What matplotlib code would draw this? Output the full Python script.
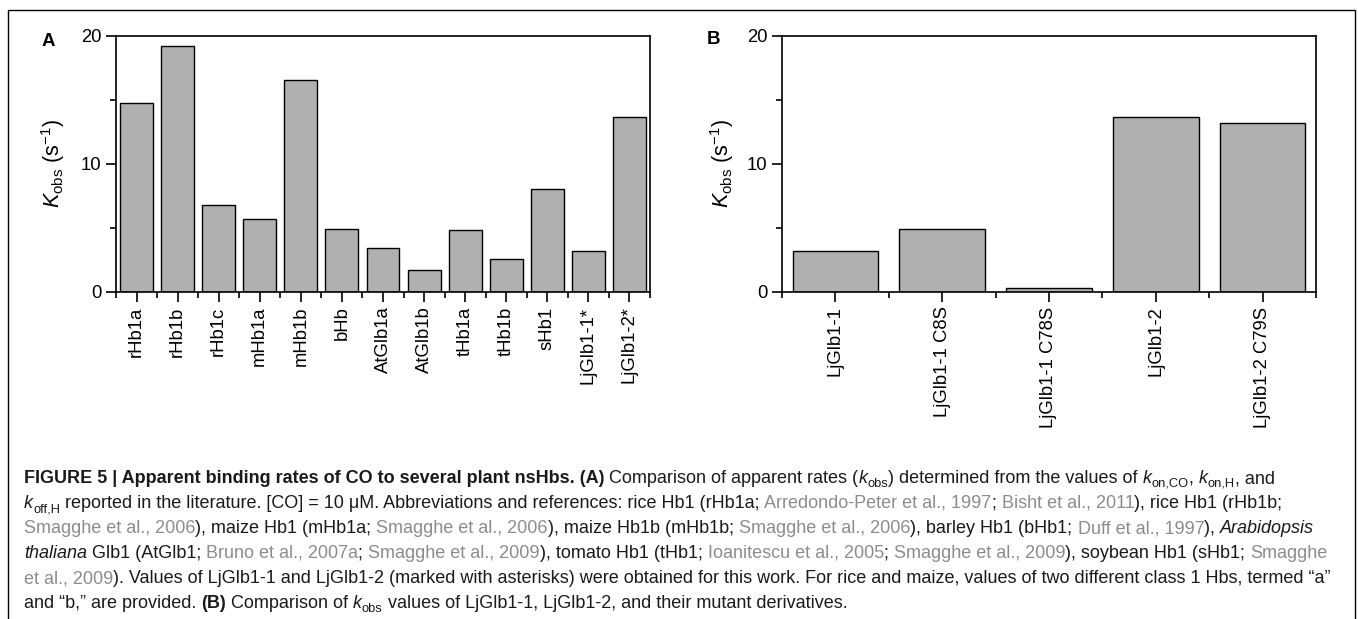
import matplotlib
matplotlib.use("Agg")
import matplotlib.pyplot as plt
from matplotlib import font_manager
from matplotlib.patches import Rectangle
import numpy as np

# panel A: literature values plus the two new proteins
namesA = ["rHb1a", "rHb1b", "rHb1c", "mHb1a", "mHb1b", "bHb", "AtGlb1a", "AtGlb1b",
          "tHb1a", "tHb1b", "sHb1", "LjGlb1-1*", "LjGlb1-2*"]
kobsA = [14.8, 19.2, 6.8, 5.7, 16.6, 4.9, 3.4, 1.75, 4.85, 2.6, 8.05, 3.2, 13.7]

# panel B: LjGlb1 proteins and their Cys->Ser mutants
namesB = ["LjGlb1-1", "LjGlb1-1 C8S", "LjGlb1-1 C78S", "LjGlb1-2", "LjGlb1-2 C79S"]
kobsB = [3.2, 4.95, 0.3, 13.7, 13.2]

W, H = 1358, 619
fig = plt.figure(figsize=(W / 100, H / 100), dpi=100)
plt.rcParams['font.family'] = ['Liberation Sans', 'DejaVu Sans']
plt.rcParams['mathtext.fontset'] = 'custom'
plt.rcParams['mathtext.rm'] = 'Liberation Sans'
plt.rcParams['mathtext.it'] = 'Liberation Sans:italic'

installed = {f.name for f in font_manager.fontManager.ttflist}
capfont = 'Liberation Sans Narrow' if 'Liberation Sans Narrow' in installed else 'Liberation Sans'
capsize = 15.4 if capfont == 'Liberation Sans Narrow' else 12.95


def px_axes(x0, x1, ytop, ybot):
    return fig.add_axes([x0 / W, 1 - ybot / H, (x1 - x0) / W, (ybot - ytop) / H])


def bar_panel(ax, names, vals):
    pos = np.arange(len(names))
    ax.bar(pos, vals, width=0.8, color="#b0b0b0", edgecolor="black", linewidth=1.0)
    ax.set_xlim(-0.5, len(names) - 0.5)
    ax.set_ylim(0, 20)
    ax.set_yticks([0, 10, 20])
    ax.set_yticks([5, 15], minor=True)
    ax.set_xticks(pos)
    ax.set_xticks(np.arange(-0.5, len(names)), minor=True)
    ax.set_xticklabels(names, rotation=90, fontsize=13.3)
    ax.tick_params(axis='y', labelsize=13.3)
    ax.tick_params(which='major', direction='out', length=7.5, width=1.2, pad=3)
    ax.tick_params(which='minor', direction='out', length=4.5, width=1.2)
    for s in ax.spines.values():
        s.set_linewidth(1.2)
    ax.set_ylabel(r'$K_{\mathrm{obs}}$ (s$^{-1}$)', fontsize=15.5, labelpad=10)


axA = px_axes(116, 650, 36, 292)
bar_panel(axA, namesA, kobsA)
axB = px_axes(782, 1316, 36, 292)
bar_panel(axB, namesB, kobsB)
axB.yaxis.labelpad = 8

fig.text(48 / W, 1 - 42 / H, "A", fontsize=13.5, fontweight='bold', ha='center', va='center')
fig.text(714 / W, 1 - 40 / H, "B", fontsize=13.5, fontweight='bold', ha='center', va='center')

# frame around the figure, open at the bottom edge
fig.patches.append(Rectangle((8 / W, -0.05), (1355 - 8) / W, 1.05 - 10 / H, transform=fig.transFigure,
                             fill=False, edgecolor='black', linewidth=1.0))

# caption, written as runs of differently styled text
GREY = "#8c8c8c"
caption = [
    [("FIGURE 5 | Apparent binding rates of CO to several plant nsHbs. (A)", 'b'),
     (" Comparison of apparent rates (", 'n'), ("k", 'i'), ("obs", 's'),
     (") determined from the values of ", 'n'), ("k", 'i'), ("on,CO", 's'), (", ", 'n'),
     ("k", 'i'), ("on,H", 's'), (", and", 'n')],
    [("k", 'i'), ("off,H", 's'),
     (" reported in the literature. [CO] = 10 \u03bcM. Abbreviations and references: rice Hb1 (rHb1a; ", 'n'),
     ("Arredondo-Peter et al., 1997", 'g'), ("; ", 'n'), ("Bisht et al., 2011", 'g'),
     ("), rice Hb1 (rHb1b;", 'n')],
    [("Smagghe et al., 2006", 'g'), ("), maize Hb1 (mHb1a; ", 'n'), ("Smagghe et al., 2006", 'g'),
     ("), maize Hb1b (mHb1b; ", 'n'), ("Smagghe et al., 2006", 'g'), ("), barley Hb1 (bHb1; ", 'n'),
     ("Duff et al., 1997", 'g'), ("), ", 'n'), ("Arabidopsis", 'i')],
    [("thaliana", 'i'), (" Glb1 (AtGlb1; ", 'n'), ("Bruno et al., 2007a", 'g'), ("; ", 'n'),
     ("Smagghe et al., 2009", 'g'), ("), tomato Hb1 (tHb1; ", 'n'), ("Ioanitescu et al., 2005", 'g'),
     ("; ", 'n'), ("Smagghe et al., 2009", 'g'), ("), soybean Hb1 (sHb1; ", 'n'), ("Smagghe", 'g')],
    [("et al., 2009", 'g'),
     ("). Values of LjGlb1-1 and LjGlb1-2 (marked with asterisks) were obtained for this work. "
      "For rice and maize, values of two different class 1 Hbs, termed \u201ca\u201d", 'n')],
    [("and \u201cb,\u201d are provided. ", 'n'), ("(B)", 'b'), (" Comparison of ", 'n'), ("k", 'i'),
     ("obs", 's'), (" values of LjGlb1-1, LjGlb1-2, and their mutant derivatives.", 'n')],
]

renderer = fig.canvas.get_renderer()


def style_kw(st):
    kw = dict(family=[capfont, 'DejaVu Sans'], fontsize=capsize, color='#1a1a1a')
    if st == 'b':
        kw['fontweight'] = 'bold'
    elif st == 'i':
        kw['fontstyle'] = 'italic'
    elif st == 'g':
        kw['color'] = GREY
    elif st == 's':
        kw['fontsize'] = capsize * 0.72
    return kw


def run_width(s, kw):
    # bar characters keep leading/trailing spaces in the measurement
    t1 = fig.text(0, 0, "|" + s + "|", **kw)
    t2 = fig.text(0, 0, "||", **kw)
    w = t1.get_window_extent(renderer).width - t2.get_window_extent(renderer).width
    t1.remove()
    t2.remove()
    return w


y0 = 483
for i, line in enumerate(caption):
    x = 24
    yb = y0 + 25 * i
    for s, st in line:
        kw = style_kw(st)
        dy = 4 if st == 's' else 0
        fig.text(x / W, 1 - (yb + dy) / H, s, va='baseline', ha='left', **kw)
        x += run_width(s, kw)

fig.savefig("out.png", dpi=100)
